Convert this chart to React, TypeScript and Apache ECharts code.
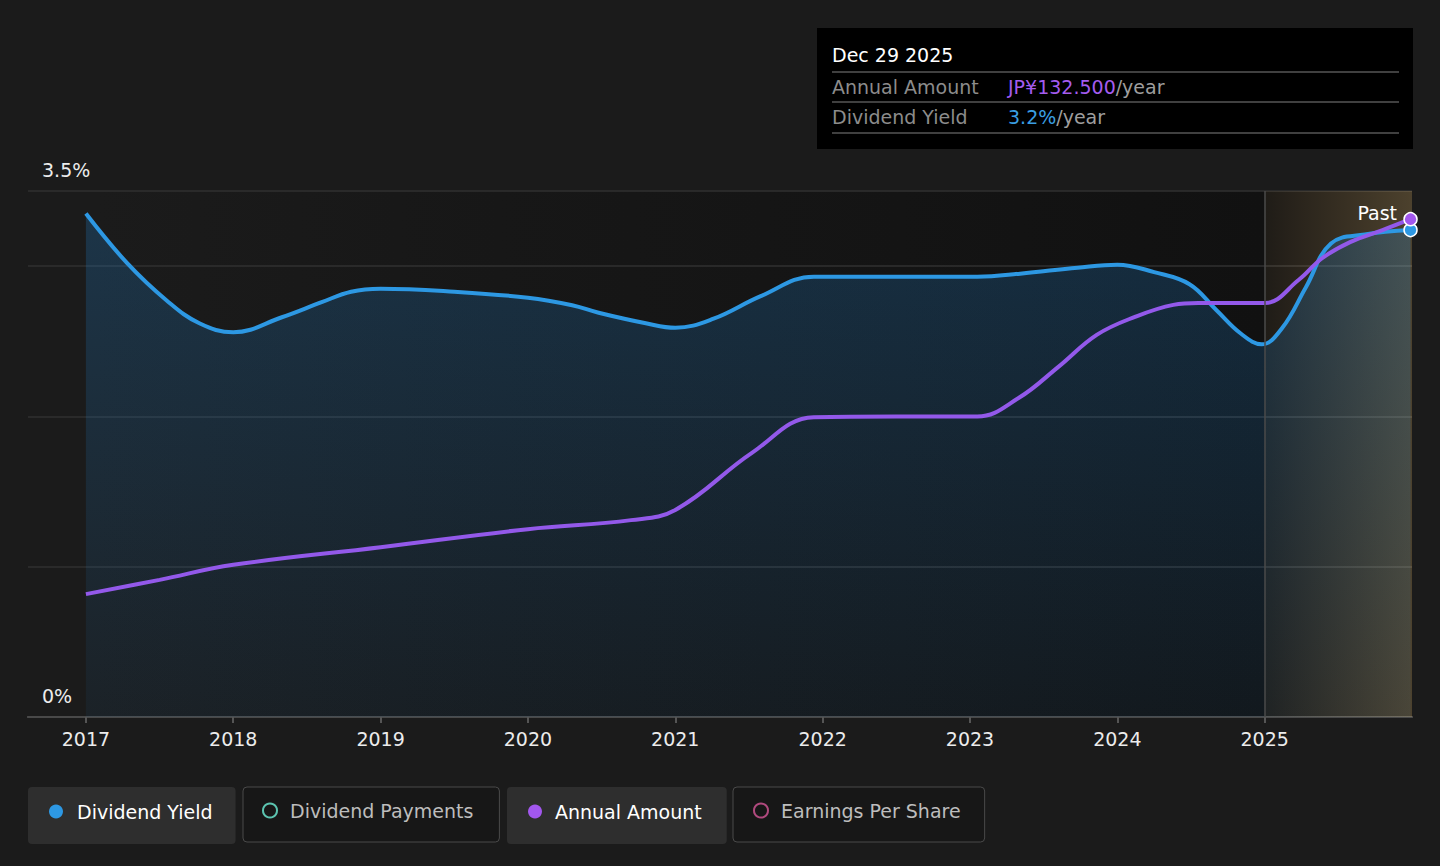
import React, { useEffect, useRef } from 'react';
import * as echarts from 'echarts';

// ---- data ----
const YEAR_TICKS = [2017, 2018, 2019, 2020, 2021, 2022, 2023, 2024, 2025];
const Y_LABEL_VALUES = [0, 3.5];

// Dividend yield (%), x as decimal year
const YIELD_X = [2017.0, 2017.28, 2017.55, 2017.77, 2018.0, 2018.33, 2018.6, 2018.8, 2019.0, 2019.5, 2020.0, 2020.3, 2020.48, 2020.8, 2021.0, 2021.26, 2021.58, 2021.94, 2022.5, 2023.05, 2023.34, 2023.73, 2024.0, 2024.25, 2024.49, 2024.67, 2024.84, 2024.98, 2025.12, 2025.28, 2025.45, 2025.68, 2025.99];
const YIELD_Y = [3.35, 3.02, 2.77, 2.62, 2.56, 2.66, 2.76, 2.83, 2.85, 2.83, 2.79, 2.74, 2.69, 2.62, 2.59, 2.65, 2.8, 2.93, 2.93, 2.93, 2.95, 2.99, 3.01, 2.96, 2.88, 2.71, 2.55, 2.48, 2.59, 2.86, 3.15, 3.21, 3.24];

// Annual amount (JP¥ / year)
const AMOUNT_X = [2017.0, 2017.5, 2018.0, 2019.0, 2020.0, 2020.7, 2021.0, 2021.52, 2021.94, 2022.5, 2023.05, 2023.33, 2023.6, 2023.86, 2024.12, 2024.38, 2024.55, 2025.0, 2025.23, 2025.39, 2025.58, 2025.8, 2025.99];
const AMOUNT_Y = [32.7, 36.5, 40.5, 45.2, 50.0, 52.4, 55.1, 70.3, 79.8, 80.0, 80.0, 84.9, 93.2, 101.7, 106.5, 109.7, 110.2, 110.2, 116.3, 122.1, 126.4, 129.6, 132.5];

const LEGEND_NAMES = ['Dividend Yield', 'Dividend Payments', 'Annual Amount', 'Earnings Per Share'];
const PAST_START = 2025;
const LAST_DATE_LABEL = 'Dec 29 2025';

const X_MIN = 2016.607;
const X_MAX = 2026.0;
const AMOUNT_AXIS_MAX = 140;

const BLUE = '#2d98e3';
const PURPLE = '#9359ea';
const FONT = 'DejaVu Sans';

function buildData(xs: number[], ys: number[], color: string) {
  return xs.map((x, i) =>
    i === xs.length - 1
      ? {
          value: [x, ys[i]],
          symbol: 'circle',
          symbolSize: 13,
          itemStyle: { color, borderColor: '#ffffff', borderWidth: 1.5 },
        }
      : [x, ys[i]]
  );
}

export default function App() {
  const ref = useRef<HTMLDivElement>(null);

  useEffect(() => {
    document.body.style.margin = '0';
    document.body.style.background = '#1b1b1b';
    const chart = echarts.init(ref.current as HTMLDivElement, undefined, { renderer: 'svg' });

    const lastAmount = AMOUNT_Y[AMOUNT_Y.length - 1];
    const lastYield = YIELD_Y[YIELD_Y.length - 1];

    const legendBase = {
      orient: 'horizontal',
      itemWidth: 14,
      itemHeight: 14,
      itemGap: 0,
      borderRadius: 4,
      selectedMode: false,
      icon: 'circle',
    };

    const option: any = {
      animation: false,
      backgroundColor: '#1b1b1b',
      textStyle: { fontFamily: FONT },
      grid: {
        left: 28,
        right: 28,
        top: 191,
        bottom: 149,
        show: true,
        borderWidth: 0,
        backgroundColor: new echarts.graphic.LinearGradient(0, 0, 1, 0, [
          { offset: 0, color: '#1b1b1b' },
          { offset: 0.05, color: '#1b1b1b' },
          { offset: 0.34, color: '#171717' },
          { offset: 0.63, color: '#141414' },
          { offset: 0.894, color: '#111111' },
          { offset: 1, color: '#111111' },
        ]),
      },
      xAxis: [
        {
          type: 'value',
          min: X_MIN,
          max: X_MAX,
          axisLine: { show: true, lineStyle: { color: '#555555', width: 2 } },
          axisTick: { show: true, length: 6, customValues: YEAR_TICKS, lineStyle: { color: '#555555', width: 2 } },
          axisLabel: {
            customValues: YEAR_TICKS,
            formatter: (v: number) => String(Math.round(v)),
            color: '#ececec',
            fontSize: 19,
            fontFamily: FONT,
            margin: 12,
          },
          splitLine: { show: false },
        },
        {
          type: 'value',
          position: 'top',
          min: X_MIN,
          max: X_MAX,
          axisLine: { show: true, lineStyle: { color: '#464646', width: 1.5 } },
          axisTick: { show: false },
          axisLabel: { show: false },
          splitLine: { show: false },
        },
      ],
      yAxis: [
        {
          type: 'value',
          min: 0,
          max: 3.5,
          interval: 1,
          axisLine: { show: false },
          axisTick: { show: false },
          axisLabel: {
            inside: true,
            customValues: Y_LABEL_VALUES,
            formatter: (v: number) => (Y_LABEL_VALUES.indexOf(v) >= 0 ? v + '%' : ''),
            color: '#ececec',
            fontSize: 19,
            fontFamily: FONT,
            margin: 14,
            verticalAlign: 'bottom',
            padding: [0, 0, 12, 0],
          },
          splitLine: { show: true, lineStyle: { color: '#303030', width: 1.5 } },
        },
        {
          type: 'value',
          min: 0,
          max: AMOUNT_AXIS_MAX,
          show: false,
          splitLine: { show: false },
        },
      ],
      legend: [
        {
          ...legendBase,
          left: 28,
          top: 787,
          padding: [15, 23, 23, 21],
          backgroundColor: '#2e2e2e',
          data: [{ name: LEGEND_NAMES[0], icon: 'circle', itemStyle: { color: BLUE, borderWidth: 0 } }],
          textStyle: { color: '#ffffff', fontSize: 19, fontFamily: FONT, lineHeight: 18, padding: [0, 0, 0, 9] },
        },
        {
          ...legendBase,
          left: 243,
          top: 787,
          padding: [14, 26, 22, 19],
          backgroundColor: '#171717',
          borderColor: '#4a4a4a',
          borderWidth: 1,
          data: [{ name: LEGEND_NAMES[1], icon: 'circle', itemStyle: { color: 'rgba(0,0,0,0)', borderColor: '#5cc4b0', borderWidth: 2 } }],
          textStyle: { color: '#bdbdbd', fontSize: 19, fontFamily: FONT, lineHeight: 18, padding: [0, 0, 0, 8] },
        },
        {
          ...legendBase,
          left: 507,
          top: 787,
          padding: [15, 25, 23, 21],
          backgroundColor: '#2e2e2e',
          data: [{ name: LEGEND_NAMES[2], icon: 'circle', itemStyle: { color: '#a257ee', borderWidth: 0 } }],
          textStyle: { color: '#ffffff', fontSize: 19, fontFamily: FONT, lineHeight: 18, padding: [0, 0, 0, 8] },
        },
        {
          ...legendBase,
          left: 733,
          top: 787,
          padding: [14, 24, 22, 20],
          backgroundColor: '#171717',
          borderColor: '#4a4a4a',
          borderWidth: 1,
          data: [{ name: LEGEND_NAMES[3], icon: 'circle', itemStyle: { color: 'rgba(0,0,0,0)', borderColor: '#b04a7e', borderWidth: 2 } }],
          textStyle: { color: '#bdbdbd', fontSize: 19, fontFamily: FONT, lineHeight: 18, padding: [0, 0, 0, 8] },
        },
      ],
      series: [
        {
          name: LEGEND_NAMES[0],
          type: 'line',
          xAxisIndex: 0,
          yAxisIndex: 0,
          data: buildData(YIELD_X, YIELD_Y, BLUE),
          smooth: 0.4,
          symbol: 'none',
          showSymbol: true,
          showAllSymbol: true,
          color: BLUE,
          lineStyle: { color: BLUE, width: 4 },
          areaStyle: {
            color: new echarts.graphic.LinearGradient(0, 0, 0, 1, [
              { offset: 0, color: 'rgba(33,150,243,0.3)' },
              { offset: 1, color: 'rgba(33,150,243,0.08)' },
            ]),
          },
          z: 3,
          markArea: {
            silent: true,
            itemStyle: {
              color: new echarts.graphic.LinearGradient(0, 0, 1, 0, [
                { offset: 0, color: 'rgba(255,200,120,0.06)' },
                { offset: 1, color: 'rgba(255,210,130,0.25)' },
              ]),
            },
            label: {
              show: true,
              position: 'insideTopRight',
              formatter: 'Past',
              color: '#ffffff',
              fontSize: 19,
              fontFamily: FONT,
              offset: [-10, 7],
            },
            data: [[{ xAxis: PAST_START }, { xAxis: X_MAX }]],
          },
          markLine: {
            silent: true,
            symbol: ['none', 'none'],
            label: { show: false },
            lineStyle: { color: '#4a4a4a', type: 'solid', width: 1.5 },
            data: [{ xAxis: PAST_START }],
          },
        },
        {
          name: LEGEND_NAMES[1],
          type: 'line',
          xAxisIndex: 0,
          yAxisIndex: 1,
          data: [],
        },
        {
          name: LEGEND_NAMES[2],
          type: 'line',
          xAxisIndex: 0,
          yAxisIndex: 1,
          data: buildData(AMOUNT_X, AMOUNT_Y, '#a257ee'),
          smooth: 0.4,
          symbol: 'none',
          showSymbol: true,
          showAllSymbol: true,
          color: PURPLE,
          lineStyle: { color: PURPLE, width: 4 },
          z: 4,
        },
        {
          name: LEGEND_NAMES[3],
          type: 'line',
          xAxisIndex: 0,
          yAxisIndex: 1,
          data: [],
        },
      ],
      graphic: [
        {
          type: 'group',
          silent: true,
          children: [
            { type: 'rect', shape: { x: 817, y: 28, width: 596, height: 121 }, style: { fill: '#000000' } },
            { type: 'text', x: 832, y: 55, style: { text: LAST_DATE_LABEL, fill: '#ffffff', fontSize: 19, fontFamily: FONT, verticalAlign: 'middle' } },
            { type: 'line', shape: { x1: 832, y1: 72, x2: 1399, y2: 72 }, style: { stroke: '#404040', lineWidth: 2 } },
            { type: 'text', x: 832, y: 87, style: { text: 'Annual Amount', fill: '#8c8c8c', fontSize: 19, fontFamily: FONT, verticalAlign: 'middle' } },
            {
              type: 'text',
              x: 1008,
              y: 87,
              style: {
                text: '{p|JP¥' + lastAmount.toFixed(3) + '}{g|/year}',
                fontSize: 19,
                fontFamily: FONT,
                verticalAlign: 'middle',
                rich: {
                  p: { fill: '#a45cf0', fontSize: 19, fontFamily: FONT },
                  g: { fill: '#9e9e9e', fontSize: 19, fontFamily: FONT },
                },
              },
            },
            { type: 'line', shape: { x1: 832, y1: 102, x2: 1399, y2: 102 }, style: { stroke: '#404040', lineWidth: 2 } },
            { type: 'text', x: 832, y: 117, style: { text: 'Dividend Yield', fill: '#8c8c8c', fontSize: 19, fontFamily: FONT, verticalAlign: 'middle' } },
            {
              type: 'text',
              x: 1008,
              y: 117,
              style: {
                text: '{b|' + lastYield.toFixed(1) + '%}{g|/year}',
                fontSize: 19,
                fontFamily: FONT,
                verticalAlign: 'middle',
                rich: {
                  b: { fill: '#3a9ee2', fontSize: 19, fontFamily: FONT },
                  g: { fill: '#9e9e9e', fontSize: 19, fontFamily: FONT },
                },
              },
            },
            { type: 'line', shape: { x1: 832, y1: 133, x2: 1399, y2: 133 }, style: { stroke: '#404040', lineWidth: 2 } },
          ],
        },
      ],
    };

    chart.setOption(option);
    return () => {
      chart.dispose();
    };
  }, []);

  return (
    <div
      ref={ref}
      style={{ position: 'absolute', left: 0, top: 0, width: 1440, height: 866 }}
    />
  );
}
